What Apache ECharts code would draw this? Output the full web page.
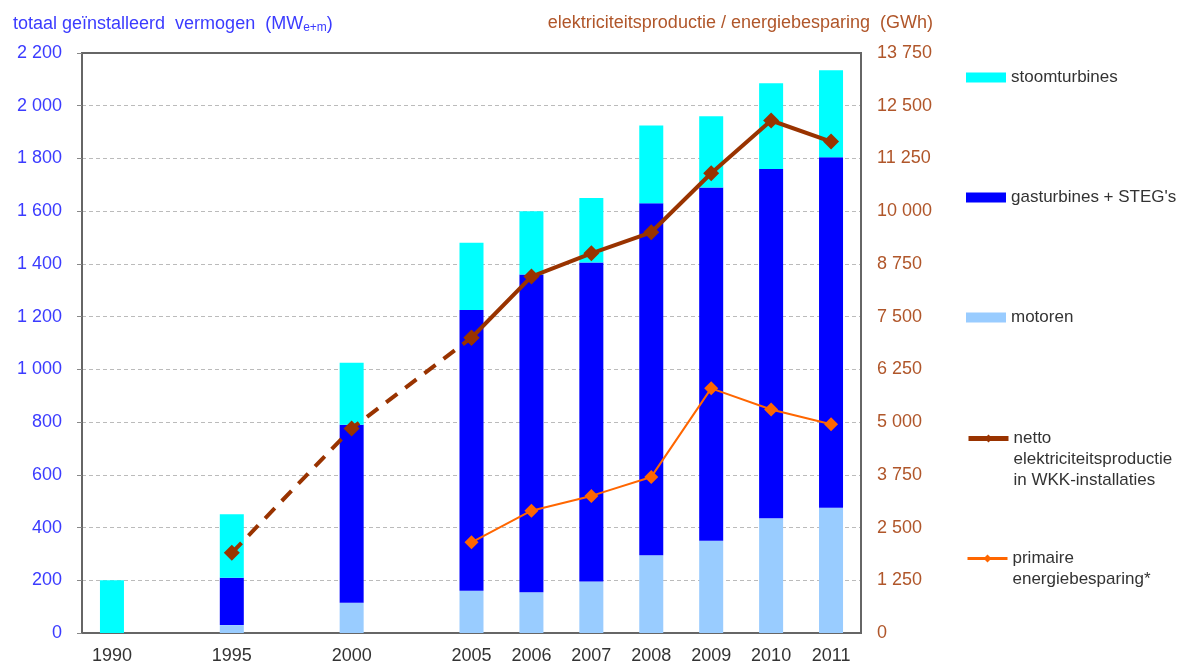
<!DOCTYPE html>
<html>
<head>
<meta charset="utf-8">
<script src="https://cdn.jsdelivr.net/npm/echarts@6/dist/echarts.min.js"></script>
<style>
  html, body { margin: 0; padding: 0; background: #fff; }
  #main { width: 1202px; height: 666px; }
</style>
</head>
<body>
<div id="main"></div>
<script>
// jaren (lege plekken = tussenliggende jaren zonder data)
const categories = ['1990', '', '1995', '', '2000', '', '2005', '2006', '2007', '2008', '2009', '2010', '2011'];

// vermogen in MW (gestapeld)
const motoren = [0, null, 30, null, 115, null, 160, 155, 195, 295, 350, 435, 475];
const gasturbines = [0, null, 180, null, 675, null, 1065, 1205, 1210, 1335, 1340, 1325, 1330];
const stoomturbines = [200, null, 240, null, 235, null, 255, 240, 245, 295, 270, 325, 330];

// GWh
const nettoGeschat = [null, null, 1900, null, 4850, null, 7000, null, null, null, null, null, null];
const netto = [null, null, null, null, null, null, 7000, 8450, 9000, 9500, 10900, 12150, 11650];
const primaire = [null, null, null, null, null, null, 2150, 2900, 3250, 3700, 5800, 5300, 4950];

const leftTicks = { min: 0, max: 2200, interval: 200 };
const rightTicks = { min: 0, max: 13750, interval: 1250 };

const font = 'Liberation Sans, Arial, sans-serif';
const blueTxt = '#3b3bff';
const brownTxt = '#b0562a';

function spaced(v) {
    return String(v).replace(/\B(?=(\d{3})+(?!\d))/g, ' ');
}

const myChart = echarts.init(document.getElementById('main'));

// lege regels vooraan zodat de eerste regel naast het icoon staat
function legendAt(name, top, lineW) {
    return {
        data: [name],
        left: 966,
        top: top,
        padding: 0,
        itemWidth: 40,
        itemHeight: 10,
        icon: lineW ? undefined : 'rect',
        lineStyle: lineW ? { width: lineW } : undefined,
        selectedMode: false,
        textStyle: { fontFamily: font, fontSize: 17, color: '#333', lineHeight: 21 },
        formatter: function (n) {
            if (n.indexOf('netto') === 0) return '\n\nnetto\nelektriciteitsproductie\nin WKK-installaties';
            if (n.indexOf('primaire') === 0) return '\nprimaire\nenergiebesparing*';
            return n;
        }
    };
}

const option = {
    animation: false,
    title: [
        {
            left: 8, top: 9,
            text: '{a|totaal geïnstalleerd  vermogen  (MW}{s|e+m}{a|)}',
            textStyle: {
                rich: {
                    a: { fontFamily: font, fontSize: 18, fontWeight: 'normal', color: blueTxt },
                    s: { fontFamily: font, fontSize: 12, fontWeight: 'normal', color: blueTxt, verticalAlign: 'bottom', padding: [8, 0, 0, 0] }
                }
            }
        },
        {
            right: 264, top: 9,
            text: 'elektriciteitsproductie / energiebesparing  (GWh)',
            textStyle: { fontFamily: font, fontSize: 18, fontWeight: 'normal', color: brownTxt }
        }
    ],
    legend: [
        legendAt('stoomturbines', 67),
        legendAt('gasturbines + STEG\'s', 187),
        legendAt('motoren', 307),
        legendAt('netto elektriciteitsproductie', 386, 5),
        legendAt('primaire energiebesparing*', 527, 3)
    ],
    grid: {
        left: 82, right: 341, top: 53, bottom: 33,
        show: true, borderColor: '#666', borderWidth: 2, backgroundColor: '#fff'
    },
    xAxis: {
        type: 'category',
        data: categories,
        axisLine: { lineStyle: { color: '#666', width: 2 } },
        axisTick: { inside: true, length: 8, lineStyle: { color: '#444', width: 2 } },
        axisLabel: { fontFamily: font, fontSize: 18, color: '#333', margin: 14, interval: 0 }
    },
    yAxis: [
        {
            type: 'value',
            min: leftTicks.min, max: leftTicks.max, interval: leftTicks.interval,
            axisLine: { show: true, lineStyle: { color: '#666', width: 2 } },
            axisTick: { show: true, length: 5, lineStyle: { color: '#888' } },
            splitLine: { showMinLine: false, showMaxLine: false, lineStyle: { color: '#bbb', type: [4, 3] } },
            axisLabel: { fontFamily: font, fontSize: 18, color: blueTxt, margin: 20, formatter: spaced }
        },
        {
            type: 'value',
            position: 'right',
            min: rightTicks.min, max: rightTicks.max, interval: rightTicks.interval,
            axisLine: { show: true, lineStyle: { color: '#666', width: 2 } },
            axisTick: { show: false },
            splitLine: { show: false },
            axisLabel: { fontFamily: font, fontSize: 18, color: brownTxt, margin: 16, formatter: spaced }
        }
    ],
    series: [
        {
            name: 'motoren', type: 'bar', stack: 'mw', barWidth: 24,
            itemStyle: { color: '#99ccff' }, data: motoren
        },
        {
            name: 'gasturbines + STEG\'s', type: 'bar', stack: 'mw', barWidth: 24,
            itemStyle: { color: '#0000ff' }, data: gasturbines
        },
        {
            name: 'stoomturbines', type: 'bar', stack: 'mw', barWidth: 24,
            itemStyle: { color: '#00ffff' }, data: stoomturbines
        },
        {
            name: 'netto geschat', type: 'line', yAxisIndex: 1, connectNulls: true,
            symbol: 'diamond', symbolSize: 16,
            lineStyle: { color: '#993300', width: 4, type: [14, 10] },
            itemStyle: { color: '#993300' },
            data: nettoGeschat
        },
        {
            name: 'netto elektriciteitsproductie', type: 'line', yAxisIndex: 1,
            symbol: 'diamond', symbolSize: 16,
            lineStyle: { color: '#993300', width: 4 },
            itemStyle: { color: '#993300' },
            data: netto
        },
        {
            name: 'primaire energiebesparing*', type: 'line', yAxisIndex: 1,
            symbol: 'diamond', symbolSize: 14,
            lineStyle: { color: '#ff6600', width: 2 },
            itemStyle: { color: '#ff6600' },
            data: primaire
        }
    ]
};

myChart.setOption(option);
</script>
</body>
</html>
